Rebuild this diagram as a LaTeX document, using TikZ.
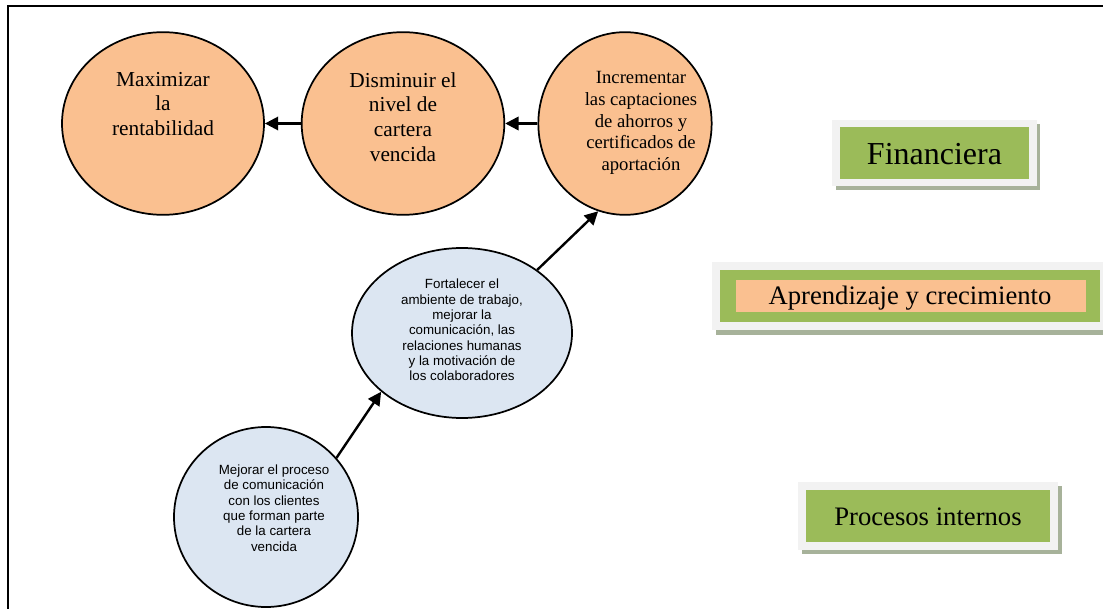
\documentclass[tikz,border=0pt]{standalone}
\usepackage{fontspec}
\setmainfont{Liberation Serif}
\newfontfamily\arialf{Liberation Sans}
\usetikzlibrary{shapes.geometric,arrows.meta}
\definecolor{orangefill}{HTML}{FAC090}
\definecolor{bluefill}{HTML}{DCE6F2}
\definecolor{greenfill}{HTML}{9BBB59}
\definecolor{lightframe}{HTML}{F2F2F2}
\definecolor{shadowc}{HTML}{A7B29A}
\begin{document}
\begin{tikzpicture}[x=0.75pt,y=-0.75pt,
  ell/.style={ellipse, draw, line width=1.3pt, inner sep=0pt},
  orangeell/.style={ell, fill=orangefill},
  blueell/.style={ell, fill=bluefill},
  bigserif/.style={align=center, inner sep=0pt, font=\fontsize{16}{18.5}\selectfont},
  midserif/.style={align=center, inner sep=0pt, font=\fontsize{14}{16.3}\selectfont},
  sanstext/.style={align=center, inner sep=0pt, font=\arialf\fontsize{10}{11.5}\selectfont},
  boxtext/.style={inner sep=0pt, anchor=base, font=\fontsize{20}{24}\selectfont},
  conn/.style={line width=1.8pt, -{Triangle[length=10pt,width=10pt]}}
]
\useasboundingbox (0,0) rectangle (1103,609);
% frame
\draw[line width=1.4pt] (8,612) -- (8,6) -- (1106,6);

% financial objectives
\node[orangeell, minimum width=151.5pt, minimum height=137pt] (maxi) at (163,123.5) {};
\node[bigserif] (maxit) at (163,104) {Maximizar\\la\\rentabilidad};
\node[orangeell, minimum width=152pt, minimum height=137pt] (dism) at (403,123.5) {};
\node[bigserif] (dismt) at (403,117) {Disminuir el\\nivel de\\cartera\\vencida};
\node[orangeell, minimum width=130pt, minimum height=137pt] (incr) at (625,123.5) {};
\node[midserif] (incrt) at (641,123) {Incrementar\\las captaciones\\de ahorros y\\certificados de\\aportación};

% learning objective
\node[blueell, minimum width=165pt, minimum height=127.5pt] (fort) at (462,333) {};
\node[sanstext] (fortt) at (462,330) {Fortalecer el\\ambiente de trabajo,\\mejorar la\\comunicación, las\\relaciones humanas\\y la motivación de\\los colaboradores};

% internal process objective
\node[blueell, minimum width=138pt, minimum height=135pt] (mejo) at (266,517) {};
\node[sanstext] (mejot) at (274,508) {Mejorar el proceso\\de comunicación\\con los clientes\\que forman parte\\de la cartera\\vencida};

% connectors
\draw[conn] (dism.west) -- (maxi.east);
\draw[conn] (incr.west) -- (dism.east);
\draw[conn] (fort.40) -- (incr.253);
\draw[conn] (mejo.40) -- (fort.216);

% perspective labels
\fill[shadowc] (836,124) rectangle (1040,190);
\fill[lightframe] (832,120) rectangle (1037,186);
\fill[greenfill] (840,127) rectangle (1029,179);
\node[boxtext, font=\fontsize{24}{28}\selectfont] (fin) at (934.5,165) {Financiera};

\fill[shadowc] (716,266) rectangle (1110,335);
\fill[lightframe] (712,262) rectangle (1110,330);
\fill[greenfill] (720,270) rectangle (1100,322);
\fill[orangefill] (736,280) rectangle (1086,312);
\node[boxtext] (apr) at (910,305) {Aprendizaje y crecimiento};

\fill[shadowc] (802,486) rectangle (1062,554);
\fill[lightframe] (798,482) rectangle (1058,550);
\fill[greenfill] (806,490) rectangle (1050,542);
\node[boxtext] (proc) at (928,525) {Procesos internos};
\end{tikzpicture}
\end{document}
